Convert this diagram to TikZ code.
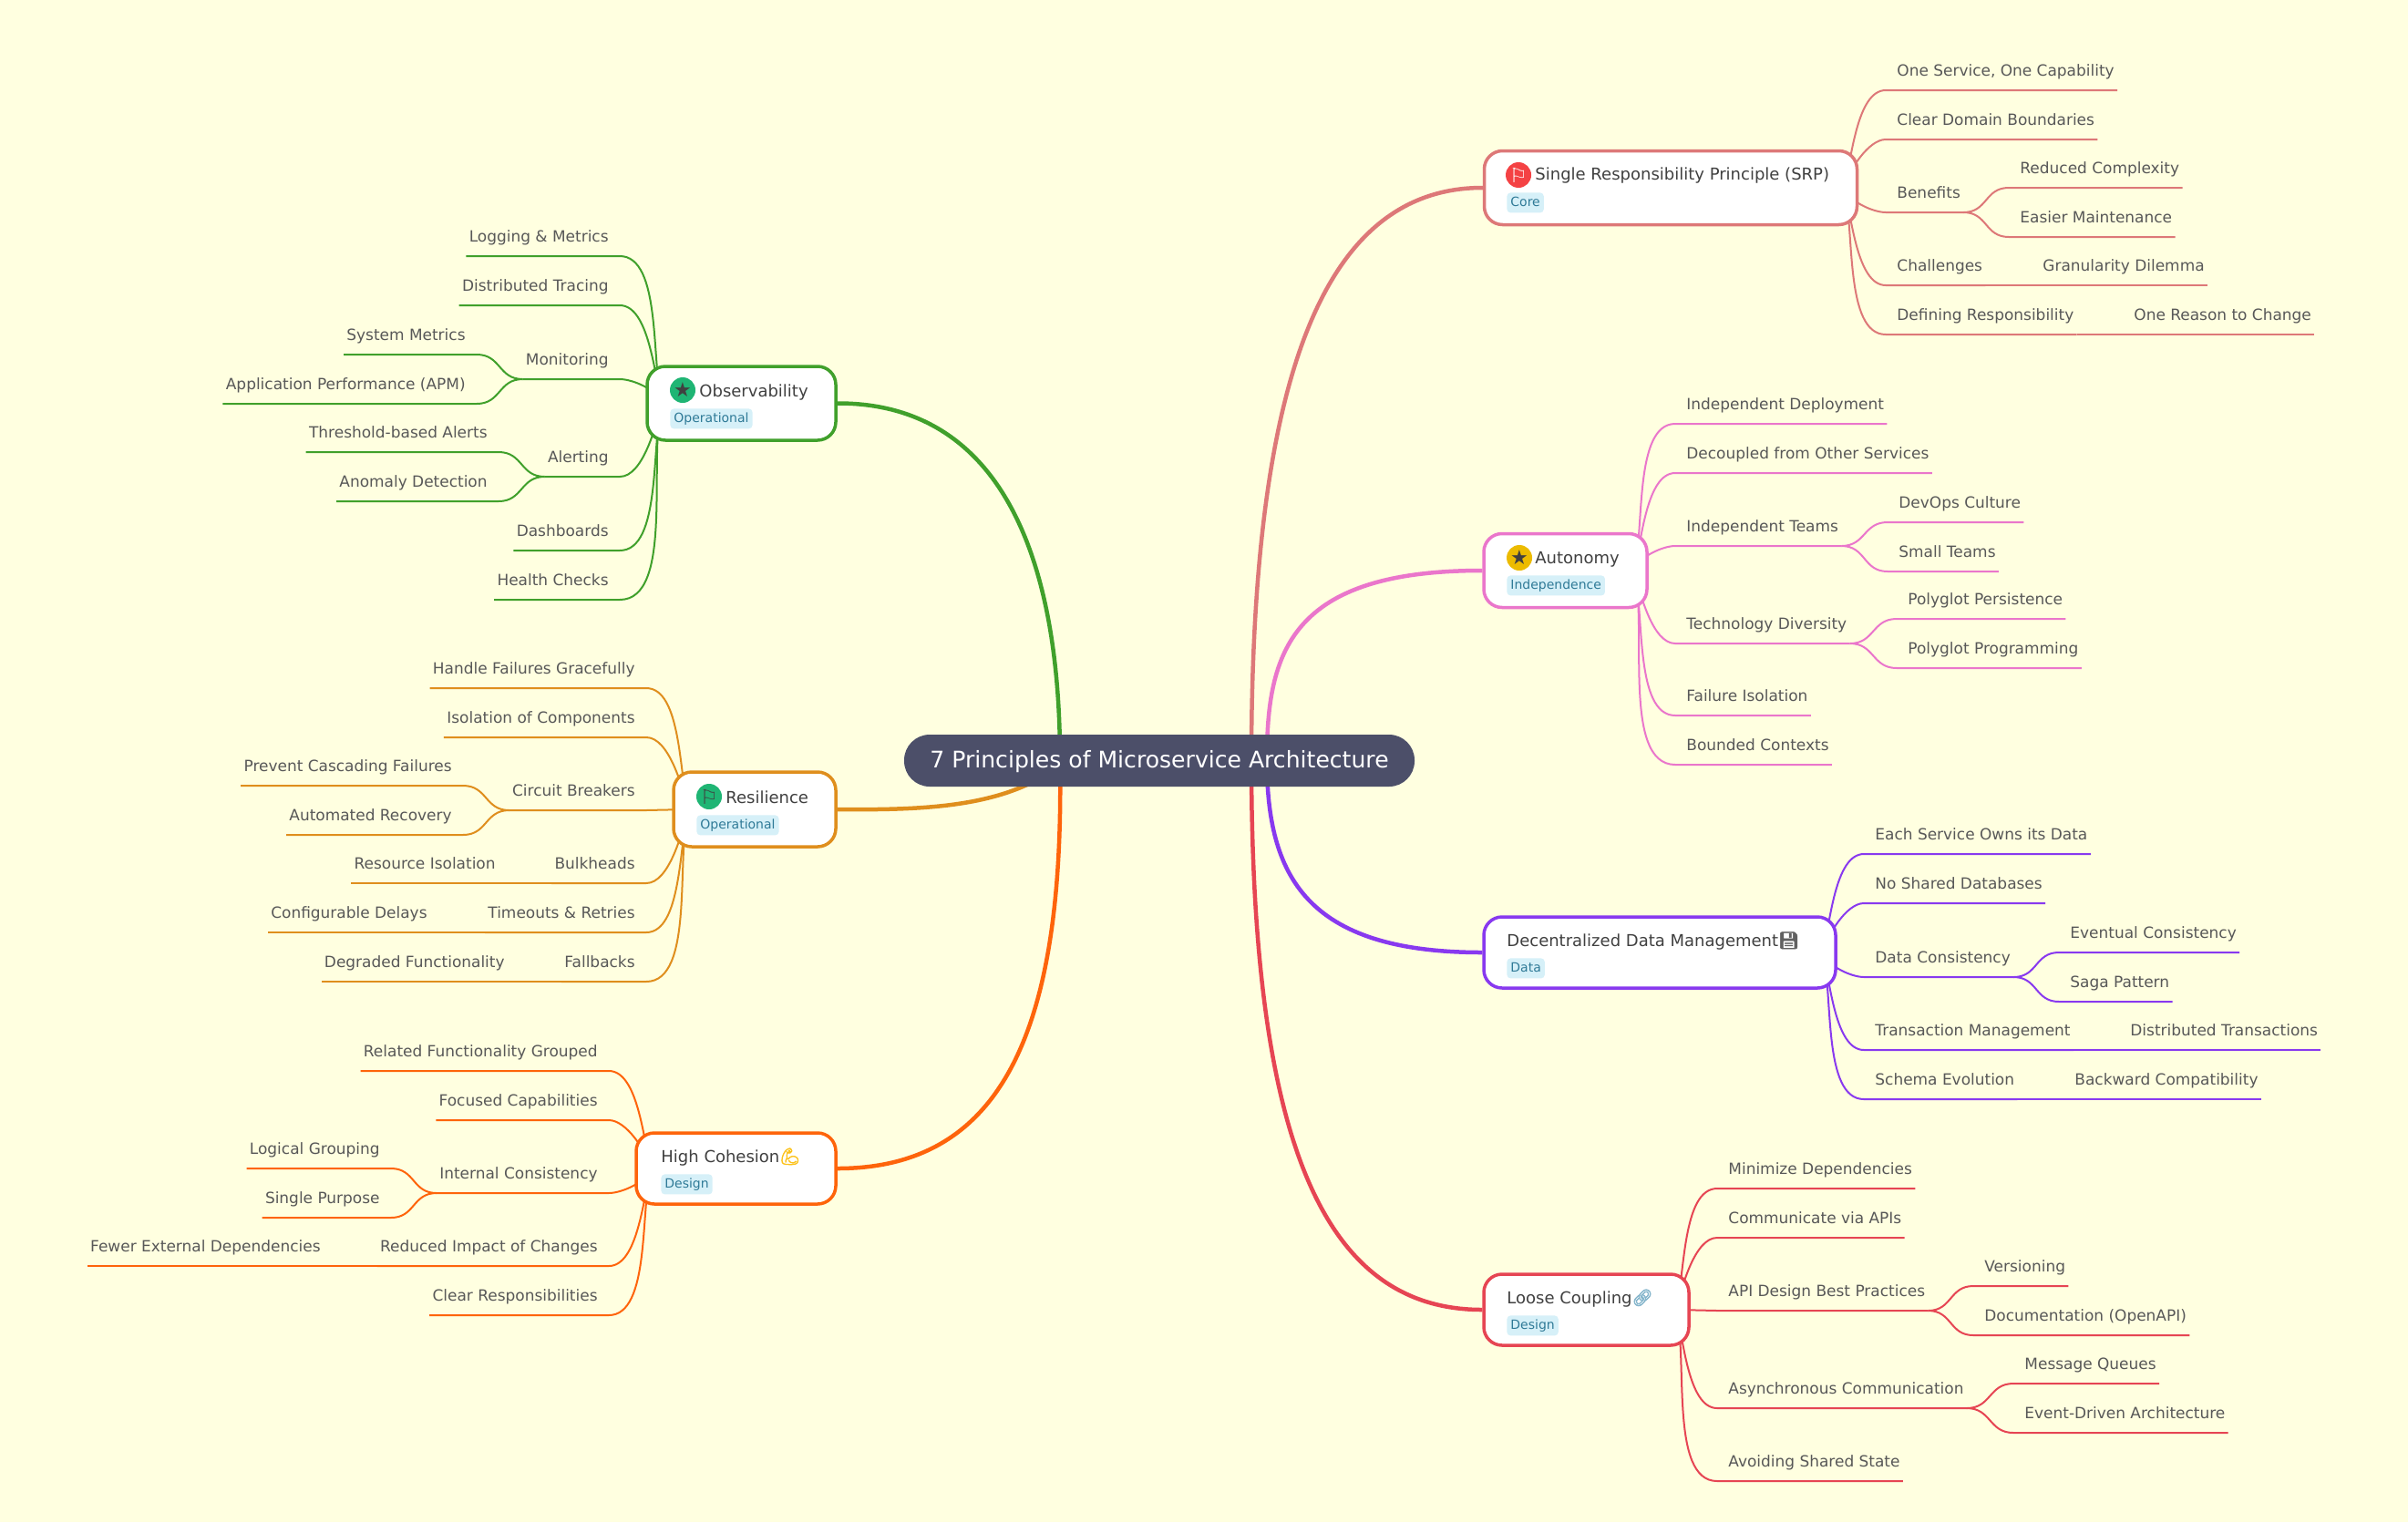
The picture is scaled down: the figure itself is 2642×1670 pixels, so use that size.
\documentclass[tikz,border=0pt]{standalone}
\usepackage{fontspec}
\usetikzlibrary{backgrounds}
\setmainfont{DejaVu Sans}
\newfontfamily\emojifont[FakeBold=3]{Noto Emoji}

\definecolor{pagecol}{HTML}{FFFFE0}
\definecolor{rootcol}{HTML}{4C4F69}
\definecolor{leafcol}{HTML}{585858}
\definecolor{titlecol}{HTML}{404040}
\definecolor{tagfill}{HTML}{D6F0F8}
\definecolor{tagtext}{HTML}{2F7A97}
\definecolor{srpcol}{HTML}{DD7878}
\definecolor{autocol}{HTML}{EA76CB}
\definecolor{datacol}{HTML}{8839EF}
\definecolor{loosecol}{HTML}{E64553}
\definecolor{obscol}{HTML}{40A02B}
\definecolor{rescol}{HTML}{DF8E1D}
\definecolor{highcol}{HTML}{FE640B}
\definecolor{redball}{HTML}{F44244}
\definecolor{yellowball}{HTML}{ECBB00}
\definecolor{greenball}{HTML}{1FB574}
\definecolor{floppycol}{HTML}{616161}
\definecolor{linkcol}{HTML}{86B6CC}
\definecolor{armcol}{HTML}{FCC21B}

\tikzset{
  rootbox/.style={fill=rootcol,text=white,rounded corners=14pt,minimum width=280pt,minimum height=28.5pt,inner sep=0pt,text height=9.5pt,text depth=1.6pt,font=\fontsize{12.55}{15}\selectfont},
  branch/.style={draw=#1,fill=white,line width=1.75pt,rounded corners=10pt,inner sep=0pt},
  title/.style={anchor=base west,inner sep=0pt,text=titlecol,font=\fontsize{9}{11}\selectfont},
  tagbox/.style={anchor=north west,fill=tagfill,text=tagtext,rounded corners=2pt,inner xsep=2pt,inner ysep=1.5pt,text height=6pt,text depth=2pt,font=\fontsize{7}{9}\selectfont},
  badge/.style={circle,fill=#1,minimum size=14pt,inner sep=0pt},
  starmark/.style={text=titlecol,font=\fontsize{11}{11}\selectfont},
  flagmark/.style={font=\fontsize{11}{11}\selectfont},
  rleaf/.style={anchor=south west,text=leafcol,inner xsep=1.5pt,inner ysep=0pt,text height=8pt,text depth=7.5pt,font=\fontsize{8.48}{10}\selectfont,execute at begin node=\hspace*{4.5pt}},
  lleaf/.style={anchor=south east,text=leafcol,inner xsep=1.5pt,inner ysep=0pt,text height=8pt,text depth=7.5pt,font=\fontsize{8.48}{10}\selectfont,execute at end node=\hspace*{4.5pt}},
  trunk/.style={draw=#1,line width=2.25pt},
  twig/.style={draw=#1,line width=1pt,line join=round},
  armup/.style={out=75,in=180,looseness=.7},
  armdn/.style={out=-75,in=180,looseness=.7},
  armupL/.style={out=105,in=0,looseness=.7},
  armdnL/.style={out=-105,in=0,looseness=.7},
  forkR/.style={out=0,in=180,looseness=1.2},
  forkL/.style={out=180,in=0,looseness=1.2}
}

\begin{document}
\begin{tikzpicture}[x=0.5pt,y=-0.5pt]
  % Root
  \node[rootbox] (root) at (1272,834.5) {7 Principles of Microservice Architecture};

  % Branch boxes
  \node[branch=srpcol,minimum width=204.5pt,minimum height=40.5pt] (srp) at (1833,206) {};
  \node[branch=autocol,minimum width=89.5pt,minimum height=40.5pt] (auto) at (1717.5,626) {};
  \node[branch=datacol,minimum width=193pt,minimum height=39pt] (data) at (1821,1045) {};
  \node[branch=loosecol,minimum width=112.5pt,minimum height=39pt] (loose) at (1740.5,1437) {};
  \node[branch=obscol,minimum width=103.5pt,minimum height=40.5pt] (obs) at (813.5,442.5) {};
  \node[branch=rescol,minimum width=89pt,minimum height=41pt] (res) at (828,888) {};
  \node[branch=highcol,minimum width=109.5pt,minimum height=39pt] (high) at (807.5,1282) {};

  % Branch titles, badges and tags
  \node[badge=redball,text=white] (srpI) at (1666,192) {};
  \node[flagmark,text=white,inner sep=0pt] (srpF) at (srpI) {⚐};
  \node[title] (srpT) at (1684,197) {Single Responsibility Principle (SRP)};
  \node[tagbox] (srpG) at (1653,211) {Core};
  \node[badge=yellowball] (autoI) at (1667,612) {};
  \node[starmark,inner sep=0pt] (autoS) at (autoI) {★};
  \node[title] (autoT) at (1684,618) {Autonomy};
  \node[tagbox] (autoG) at (1653,631) {Independence};
  \node[title] (dataT) at (1653,1038) {Decentralized Data Management{\emojifont\textcolor{floppycol}{💾}}};
  \node[tagbox] (dataG) at (1653,1051) {Data};
  \node[title] (looseT) at (1653,1430) {Loose Coupling{\emojifont\textcolor{linkcol}{🔗}}};
  \node[tagbox] (looseG) at (1653,1443) {Design};
  \node[badge=greenball] (obsI) at (749,428) {};
  \node[starmark,inner sep=0pt] (obsS) at (obsI) {★};
  \node[title] (obsT) at (767,435) {Observability};
  \node[tagbox] (obsG) at (735,448) {Operational};
  \node[badge=greenball] (resI) at (778,874) {};
  \node[flagmark,text=titlecol,inner sep=0pt] (resF) at (resI) {⚐};
  \node[title] (resT) at (796,881) {Resilience};
  \node[tagbox] (resG) at (764,894) {Operational};
  \node[title] (highT) at (725,1275) {High Cohesion{\emojifont\textcolor{armcol}{💪}}};
  \node[tagbox] (highG) at (725,1288) {Design};

  % Leaves of SRP
  \node[rleaf] (oneserv) at (2069,99) {One Service, One Capability};
  \node[rleaf] (domain) at (2069,153) {Clear Domain Boundaries};
  \node[rleaf] (benefits) at (2069,233) {Benefits};
  \node[rleaf] (reduced) at (2204,206) {Reduced Complexity};
  \node[rleaf] (easier) at (2204,260) {Easier Maintenance};
  \node[rleaf] (challenges) at (2069,313) {Challenges};
  \node[rleaf] (granular) at (2229,313) {Granularity Dilemma};
  \node[rleaf] (defining) at (2069,367) {Defining Responsibility};
  \node[rleaf] (reason) at (2329,367) {One Reason to Change};

  % Leaves of Autonomy
  \node[rleaf] (deploy) at (1838,465) {Independent Deployment};
  \node[rleaf] (decoupled) at (1838,519) {Decoupled from Other Services};
  \node[rleaf] (teams) at (1838,599) {Independent Teams};
  \node[rleaf] (devops) at (2071,573) {DevOps Culture};
  \node[rleaf] (small) at (2071,627) {Small Teams};
  \node[rleaf] (diversity) at (1838,706) {Technology Diversity};
  \node[rleaf] (persist) at (2081,679) {Polyglot Persistence};
  \node[rleaf] (program) at (2081,733) {Polyglot Programming};
  \node[rleaf] (failure) at (1838,785) {Failure Isolation};
  \node[rleaf] (bounded) at (1838,839) {Bounded Contexts};

  % Leaves of Data
  \node[rleaf] (owns) at (2045,937) {Each Service Owns its Data};
  \node[rleaf] (noshared) at (2045,991) {No Shared Databases};
  \node[rleaf] (consist) at (2045,1072) {Data Consistency};
  \node[rleaf] (eventual) at (2259,1045) {Eventual Consistency};
  \node[rleaf] (saga) at (2259,1099) {Saga Pattern};
  \node[rleaf] (transact) at (2045,1152) {Transaction Management};
  \node[rleaf] (distrib) at (2325,1152) {Distributed Transactions};
  \node[rleaf] (schema) at (2045,1206) {Schema Evolution};
  \node[rleaf] (backward) at (2264,1206) {Backward Compatibility};

  % Leaves of Loose Coupling
  \node[rleaf] (minimize) at (1884,1304) {Minimize Dependencies};
  \node[rleaf] (viaapi) at (1884,1358) {Communicate via APIs};
  \node[rleaf] (apibest) at (1884,1438) {API Design Best Practices};
  \node[rleaf] (version) at (2165,1411) {Versioning};
  \node[rleaf] (openapi) at (2165,1465) {Documentation (OpenAPI)};
  \node[rleaf] (async) at (1884,1545) {Asynchronous Communication};
  \node[rleaf] (queues) at (2209,1518) {Message Queues};
  \node[rleaf] (events) at (2209,1572) {Event-Driven Architecture};
  \node[rleaf] (avoid) at (1884,1625) {Avoiding Shared State};

  % Leaves of Observability
  \node[lleaf] (logging) at (680,281) {Logging \& Metrics};
  \node[lleaf] (tracing) at (680,335) {Distributed Tracing};
  \node[lleaf] (monitor) at (680,416) {Monitoring};
  \node[lleaf] (sysm) at (523,389) {System Metrics};
  \node[lleaf] (apm) at (523,443) {Application Performance (APM)};
  \node[lleaf] (alerting) at (680,523) {Alerting};
  \node[lleaf] (thresh) at (547,496) {Threshold-based Alerts};
  \node[lleaf] (anomaly) at (547,550) {Anomaly Detection};
  \node[lleaf] (dash) at (680,604) {Dashboards};
  \node[lleaf] (health) at (680,658) {Health Checks};

  % Leaves of Resilience
  \node[lleaf] (handle) at (709,755) {Handle Failures Gracefully};
  \node[lleaf] (isolate) at (709,809) {Isolation of Components};
  \node[lleaf] (circuit) at (709,889) {Circuit Breakers};
  \node[lleaf] (cascade) at (508,862) {Prevent Cascading Failures};
  \node[lleaf] (recover) at (508,916) {Automated Recovery};
  \node[lleaf] (bulk) at (709,969) {Bulkheads};
  \node[lleaf] (resiso) at (556,969) {Resource Isolation};
  \node[lleaf] (timeout) at (709,1023) {Timeouts \& Retries};
  \node[lleaf] (delays) at (481,1023) {Configurable Delays};
  \node[lleaf] (fallback) at (709,1077) {Fallbacks};
  \node[lleaf] (degrade) at (566,1077) {Degraded Functionality};

  % Leaves of High Cohesion
  \node[lleaf] (related) at (668,1175) {Related Functionality Grouped};
  \node[lleaf] (focused) at (668,1229) {Focused Capabilities};
  \node[lleaf] (internal) at (668,1309) {Internal Consistency};
  \node[lleaf] (logical) at (429,1282) {Logical Grouping};
  \node[lleaf] (single) at (429,1336) {Single Purpose};
  \node[lleaf] (impact) at (668,1389) {Reduced Impact of Changes};
  \node[lleaf] (fewer) at (364,1389) {Fewer External Dependencies};
  \node[lleaf] (clearres) at (668,1443) {Clear Responsibilities};

  % Start points of the twigs
  \coordinate (srpR) at ([xshift=-8pt]srp.east);
  \coordinate (autoR) at ([xshift=-8pt]auto.east);
  \coordinate (dataR) at ([xshift=-8pt]data.east);
  \coordinate (looseR) at ([xshift=-8pt]loose.east);
  \coordinate (obsL) at ([xshift=9pt]obs.west);
  \coordinate (resL) at ([xshift=9pt]res.west);
  \coordinate (highL) at ([xshift=9pt]high.west);

  % Start points of the trunks
  \coordinate (rootA) at (1373,834);
  \coordinate (rootB) at (1390,834);
  \coordinate (rootC) at (1163,834);
  \coordinate (rootD) at (1165,838);

  \begin{pgfonlayer}{background}
    % Page
    \fill[pagecol] (0,0) rectangle (2642,1670);

    % Trunks
    \draw[trunk=srpcol] (rootA) .. controls (1373,421) and (1449,206) .. (srp.west);
    \draw[trunk=autocol] (rootB) .. controls (1390,716) and (1415,626) .. (auto.west);
    \draw[trunk=datacol] (rootB) .. controls (1390,960) and (1432,1045) .. (data.west);
    \draw[trunk=loosecol] (rootA) .. controls (1373,1247) and (1449,1437) .. (loose.west);
    \draw[trunk=obscol] (rootC) .. controls (1163,606) and (1095,442) .. (obs.east);
    \draw[trunk=rescol] (rootD) .. controls (1105,885) and (1020,889) .. (res.east);
    \draw[trunk=highcol] (rootC) .. controls (1168,1130) and (1100,1282) .. (high.east);

    % Twigs of SRP
    \draw[twig=srpcol] (srpR) to[armup] (oneserv.south west) -- (oneserv.south east);
    \draw[twig=srpcol] (srpR) to[armup] (domain.south west) -- (domain.south east);
    \draw[twig=srpcol] (srpR) to[armdn] (benefits.south west) -- (benefits.south east);
    \draw[twig=srpcol] (benefits.south east) to[forkR] (reduced.south west) -- (reduced.south east);
    \draw[twig=srpcol] (benefits.south east) to[forkR] (easier.south west) -- (easier.south east);
    \draw[twig=srpcol] (srpR) to[armdn] (challenges.south west) -- (challenges.south east);
    \draw[twig=srpcol] (challenges.south east) -- (granular.south west) -- (granular.south east);
    \draw[twig=srpcol] (srpR) to[armdn] (defining.south west) -- (defining.south east);
    \draw[twig=srpcol] (defining.south east) -- (reason.south west) -- (reason.south east);

    % Twigs of Autonomy
    \draw[twig=autocol] (autoR) to[armup] (deploy.south west) -- (deploy.south east);
    \draw[twig=autocol] (autoR) to[armup] (decoupled.south west) -- (decoupled.south east);
    \draw[twig=autocol] (autoR) to[armup] (teams.south west) -- (teams.south east);
    \draw[twig=autocol] (teams.south east) to[forkR] (devops.south west) -- (devops.south east);
    \draw[twig=autocol] (teams.south east) to[forkR] (small.south west) -- (small.south east);
    \draw[twig=autocol] (autoR) to[armdn] (diversity.south west) -- (diversity.south east);
    \draw[twig=autocol] (diversity.south east) to[forkR] (persist.south west) -- (persist.south east);
    \draw[twig=autocol] (diversity.south east) to[forkR] (program.south west) -- (program.south east);
    \draw[twig=autocol] (autoR) to[armdn] (failure.south west) -- (failure.south east);
    \draw[twig=autocol] (autoR) to[armdn] (bounded.south west) -- (bounded.south east);

    % Twigs of Data
    \draw[twig=datacol] (dataR) to[armup] (owns.south west) -- (owns.south east);
    \draw[twig=datacol] (dataR) to[armup] (noshared.south west) -- (noshared.south east);
    \draw[twig=datacol] (dataR) to[armdn] (consist.south west) -- (consist.south east);
    \draw[twig=datacol] (consist.south east) to[forkR] (eventual.south west) -- (eventual.south east);
    \draw[twig=datacol] (consist.south east) to[forkR] (saga.south west) -- (saga.south east);
    \draw[twig=datacol] (dataR) to[armdn] (transact.south west) -- (transact.south east);
    \draw[twig=datacol] (transact.south east) -- (distrib.south west) -- (distrib.south east);
    \draw[twig=datacol] (dataR) to[armdn] (schema.south west) -- (schema.south east);
    \draw[twig=datacol] (schema.south east) -- (backward.south west) -- (backward.south east);

    % Twigs of Loose Coupling
    \draw[twig=loosecol] (looseR) to[armup] (minimize.south west) -- (minimize.south east);
    \draw[twig=loosecol] (looseR) to[armup] (viaapi.south west) -- (viaapi.south east);
    \draw[twig=loosecol] (looseR) -- (apibest.south west) -- (apibest.south east);
    \draw[twig=loosecol] (apibest.south east) to[forkR] (version.south west) -- (version.south east);
    \draw[twig=loosecol] (apibest.south east) to[forkR] (openapi.south west) -- (openapi.south east);
    \draw[twig=loosecol] (looseR) to[armdn] (async.south west) -- (async.south east);
    \draw[twig=loosecol] (async.south east) to[forkR] (queues.south west) -- (queues.south east);
    \draw[twig=loosecol] (async.south east) to[forkR] (events.south west) -- (events.south east);
    \draw[twig=loosecol] (looseR) to[armdn] (avoid.south west) -- (avoid.south east);

    % Twigs of Observability
    \draw[twig=obscol] (obsL) to[armupL] (logging.south east) -- (logging.south west);
    \draw[twig=obscol] (obsL) to[armupL] (tracing.south east) -- (tracing.south west);
    \draw[twig=obscol] (obsL) to[armupL] (monitor.south east) -- (monitor.south west);
    \draw[twig=obscol] (monitor.south west) to[forkL] (sysm.south east) -- (sysm.south west);
    \draw[twig=obscol] (monitor.south west) to[forkL] (apm.south east) -- (apm.south west);
    \draw[twig=obscol] (obsL) to[armdnL] (alerting.south east) -- (alerting.south west);
    \draw[twig=obscol] (alerting.south west) to[forkL] (thresh.south east) -- (thresh.south west);
    \draw[twig=obscol] (alerting.south west) to[forkL] (anomaly.south east) -- (anomaly.south west);
    \draw[twig=obscol] (obsL) to[armdnL] (dash.south east) -- (dash.south west);
    \draw[twig=obscol] (obsL) to[armdnL] (health.south east) -- (health.south west);

    % Twigs of Resilience
    \draw[twig=rescol] (resL) to[armupL] (handle.south east) -- (handle.south west);
    \draw[twig=rescol] (resL) to[armupL] (isolate.south east) -- (isolate.south west);
    \draw[twig=rescol] (resL) -- (circuit.south east) -- (circuit.south west);
    \draw[twig=rescol] (circuit.south west) to[forkL] (cascade.south east) -- (cascade.south west);
    \draw[twig=rescol] (circuit.south west) to[forkL] (recover.south east) -- (recover.south west);
    \draw[twig=rescol] (resL) to[armdnL] (bulk.south east) -- (bulk.south west);
    \draw[twig=rescol] (bulk.south west) -- (resiso.south east) -- (resiso.south west);
    \draw[twig=rescol] (resL) to[armdnL] (timeout.south east) -- (timeout.south west);
    \draw[twig=rescol] (timeout.south west) -- (delays.south east) -- (delays.south west);
    \draw[twig=rescol] (resL) to[armdnL] (fallback.south east) -- (fallback.south west);
    \draw[twig=rescol] (fallback.south west) -- (degrade.south east) -- (degrade.south west);

    % Twigs of High Cohesion
    \draw[twig=highcol] (highL) to[armupL] (related.south east) -- (related.south west);
    \draw[twig=highcol] (highL) to[armupL] (focused.south east) -- (focused.south west);
    \draw[twig=highcol] (highL) to[armdnL] (internal.south east) -- (internal.south west);
    \draw[twig=highcol] (internal.south west) to[forkL] (logical.south east) -- (logical.south west);
    \draw[twig=highcol] (internal.south west) to[forkL] (single.south east) -- (single.south west);
    \draw[twig=highcol] (highL) to[armdnL] (impact.south east) -- (impact.south west);
    \draw[twig=highcol] (impact.south west) -- (fewer.south east) -- (fewer.south west);
    \draw[twig=highcol] (highL) to[armdnL] (clearres.south east) -- (clearres.south west);
  \end{pgfonlayer}
\end{tikzpicture}
\end{document}
